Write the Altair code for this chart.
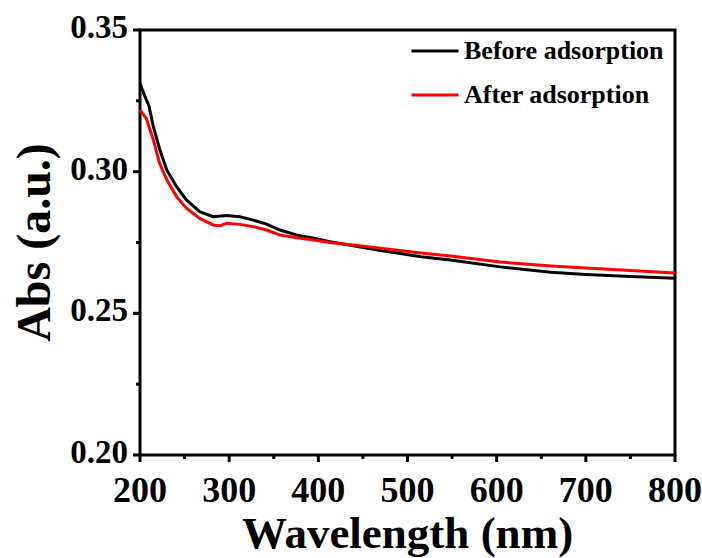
import altair as alt
import pandas as pd

# ---- data ----
wl_before = [200, 205, 210, 215, 222, 230, 241, 252, 267, 282, 297, 312, 327, 342,
             357, 376, 395, 413, 436, 470, 515, 548, 604, 661, 700, 750, 800]
abs_before = [0.3312, 0.3270, 0.3232, 0.3159, 0.3080, 0.3006, 0.2947, 0.2900, 0.2859,
              0.2841, 0.2845, 0.2841, 0.2829, 0.2815, 0.2794, 0.2776, 0.2765, 0.2753,
              0.2740, 0.2722, 0.2700, 0.2688, 0.2664, 0.2645, 0.2637, 0.2630, 0.2624]

wl_after = [200, 207, 215, 222, 230, 241, 252, 267, 282, 290, 297, 312, 327, 342,
            357, 376, 395, 413, 436, 470, 515, 548, 604, 661, 700, 750, 800]
abs_after = [0.3218, 0.3188, 0.3112, 0.3029, 0.2971, 0.2912, 0.2871, 0.2835, 0.2812,
             0.2809, 0.2818, 0.2814, 0.2806, 0.2794, 0.2776, 0.2767, 0.2759, 0.2750,
             0.2742, 0.2730, 0.2713, 0.2702, 0.2681, 0.2667, 0.2660, 0.2651, 0.2642]

series = ["Before adsorption", "After adsorption"]
colors = ["#000000", "#ff0000"]

x_major = [200, 300, 400, 500, 600, 700, 800]
x_minor = [250, 350, 450, 550, 650, 750]
y_major = [0.20, 0.25, 0.30, 0.35]
y_minor = [0.225, 0.275, 0.325]

x_title = "Wavelength (nm)"
y_title = "Abs (a.u.)"

df = pd.concat([
    pd.DataFrame({"Wavelength": wl_before, "Abs": abs_before, "Sample": series[0], "ord": 0}),
    pd.DataFrame({"Wavelength": wl_after, "Abs": abs_after, "Sample": series[1], "ord": 1}),
], ignore_index=True)

W, H = 535, 425
MAJOR, MINOR = 7, 4
FONT = "Liberation Serif"
x_scale = alt.Scale(domain=[200, 800], nice=False)
y_scale = alt.Scale(domain=[0.20, 0.35], nice=False, zero=False)

main = (
    alt.Chart(df)
    .mark_line(strokeWidth=3)
    .encode(
        x=alt.X("Wavelength:Q", scale=x_scale, axis=None),
        y=alt.Y("Abs:Q", scale=y_scale, axis=None),
        color=alt.Color(
            "Sample:N",
            scale=alt.Scale(domain=series, range=colors),
            legend=alt.Legend(
                orient="none",
                legendX=270,
                legendY=-4,
                title=None,
                symbolType="stroke",
                symbolSize=2209,
                symbolStrokeWidth=3,
                labelFont=FONT,
                labelFontSize=26,
                labelFontWeight="bold",
                labelColor="black",
                labelLimit=0,
                labelOffset=4,
                rowPadding=6,
                padding=0,
            ),
        ),
        order=alt.Order("ord:Q"),
    )
)


def x_ticks(values, length):
    return (
        alt.Chart(pd.DataFrame({"t": values}))
        .mark_rule(color="black", strokeWidth=3, strokeCap="butt")
        .encode(
            x=alt.X("t:Q", scale=x_scale, axis=None),
            y=alt.value(H),
            y2=alt.value(H + length),
        )
    )


def y_ticks(values, length):
    return (
        alt.Chart(pd.DataFrame({"t": values}))
        .mark_rule(color="black", strokeWidth=3, strokeCap="butt")
        .encode(
            y=alt.Y("t:Q", scale=y_scale, axis=None),
            x=alt.value(0),
            x2=alt.value(-length),
        )
    )


x_labels = (
    alt.Chart(pd.DataFrame({"t": x_major}))
    .mark_text(font=FONT, fontWeight="bold", fontSize=36, color="black",
               align="center", baseline="alphabetic")
    .encode(
        x=alt.X("t:Q", scale=x_scale, axis=None),
        y=alt.value(H + 47),
        text=alt.Text("t:Q", format="d"),
    )
)

y_labels = (
    alt.Chart(pd.DataFrame({"t": y_major}))
    .mark_text(font=FONT, fontWeight="bold", fontSize=33, color="black",
               align="right", baseline="alphabetic", dy=8)
    .encode(
        y=alt.Y("t:Q", scale=y_scale, axis=None),
        x=alt.value(-12),
        text=alt.Text("t:Q", format=".2f"),
    )
)

x_title_mark = (
    alt.Chart(pd.DataFrame({"label": [x_title]}))
    .mark_text(font=FONT, fontWeight="bold", fontSize=45, color="black",
               align="center", baseline="alphabetic")
    .encode(x=alt.value(W / 2), y=alt.value(H + 93), text="label:N")
)

y_title_mark = (
    alt.Chart(pd.DataFrame({"label": [y_title]}))
    .mark_text(font=FONT, fontWeight="bold", fontSize=48, color="black",
               align="center", baseline="alphabetic", angle=270)
    .encode(x=alt.value(-90), y=alt.value(H / 2), text="label:N")
)

chart = (
    alt.layer(
        main,
        x_ticks(x_major, MAJOR),
        x_ticks(x_minor, MINOR),
        y_ticks(y_major, MAJOR),
        y_ticks(y_minor, MINOR),
        x_labels,
        y_labels,
        x_title_mark,
        y_title_mark,
    )
    .properties(
        width=W,
        height=H,
        autosize="none",
        padding={"left": 140, "top": 30, "right": 27, "bottom": 103},
        background="white",
    )
    .configure_view(stroke="black", strokeWidth=3)
)

chart.save("out.html", embed_options={"renderer": "svg", "actions": False})
